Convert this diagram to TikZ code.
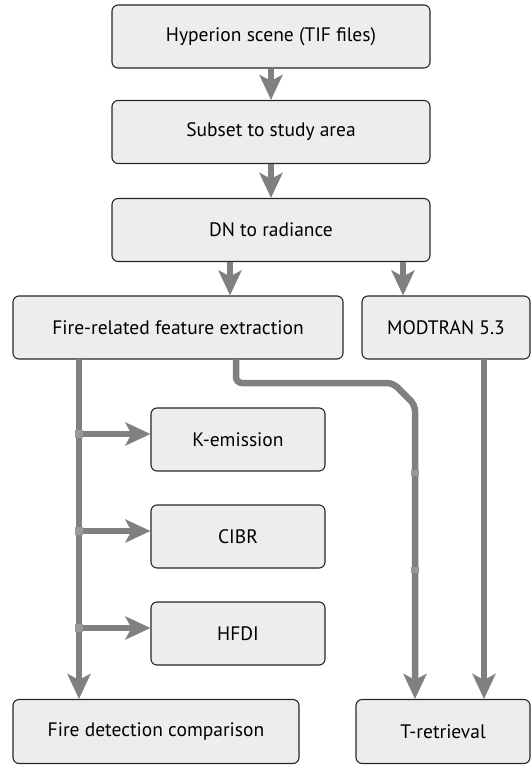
\documentclass[tikz,border=0pt]{standalone}
\usepackage{fontspec}
\setmainfont{PT Sans}
\usetikzlibrary{arrows.meta}
\begin{document}
\begin{tikzpicture}[x=1pt,y=-1pt,
  box/.style={draw=black!85,line width=1.1pt,fill=black!7,rounded corners=6pt,
    minimum height=63pt,inner sep=0pt,font=\fontsize{19.5}{23}\selectfont},
  conn/.style={draw=black!50,line width=6.5pt,
    -{Triangle[length=25pt,width=23pt,inset=6pt]}},
  jn/.style={fill=black!40,minimum size=8pt,inner sep=0pt}]
\useasboundingbox (0,0) rectangle (531,765);
\node[box,minimum width=318pt] (hyp) at (271,36.5) {Hyperion scene (TIF files)};
\node[box,minimum width=318pt] (sub) at (271,132) {Subset to study area};
\node[box,minimum width=318pt] (dn) at (271,230) {DN to radiance};
\node[box,minimum width=330pt] (fire) at (178,327.5) {Fire-related feature extraction};
\node[box,minimum width=168pt] (mod) at (446,327.5) {MODTRAN 5.3};
\node[box,minimum width=174pt] (kem) at (238,439.5) {K-emission};
\node[box,minimum width=174pt] (cibr) at (238,536.5) {CIBR};
\node[box,minimum width=174pt] (hfdi) at (238,633.5) {HFDI};
\node[box,minimum width=286pt,minimum height=64pt] (fdc) at (156,731.5) {Fire detection comparison};
\node[box,minimum width=174pt,minimum height=64pt] (tret) at (443,731.5) {T-retrieval};

\draw[conn] (hyp.south) -- (sub.north);
\draw[conn] (sub.south) -- (dn.north);
\draw[conn] (dn.south -| fire.north) ++(52,0) coordinate (d1) -- (d1 |- fire.north);
\draw[conn] (dn.south -| mod.north) ++(-43,0) coordinate (d2) -- (d2 |- mod.north);

\coordinate (ls) at (79,359);
\coordinate (lk) at (79,434);
\coordinate (lc) at (79,531);
\coordinate (lh) at (79,628);
\draw[conn] (ls) -- (ls |- fdc.north);
\draw[conn] (lk) -- (lk -| kem.west);
\draw[conn] (lc) -- (lc -| cibr.west);
\draw[conn] (lh) -- (lh -| hfdi.west);

\coordinate (rs) at (236,359);
\coordinate (r1) at (236,383);
\coordinate (r2) at (393,383);
\coordinate (r3) at (415,405);
\draw[conn,rounded corners=6pt] (rs) -- (r1) -- (r2) -- (r3) -- (r3 |- tret.north);
\coordinate (ms) at (484,359);
\draw[conn] (ms) -- (ms |- tret.north);

\node[jn] (j1) at (lk) {};
\node[jn] (j2) at (lc) {};
\node[jn] (j3) at (lh) {};
\node[jn,minimum width=8pt,minimum height=6pt] (j4) at (415,473) {};
\node[jn,minimum width=8pt,minimum height=6pt] (j5) at (415,570) {};
\end{tikzpicture}
\end{document}
